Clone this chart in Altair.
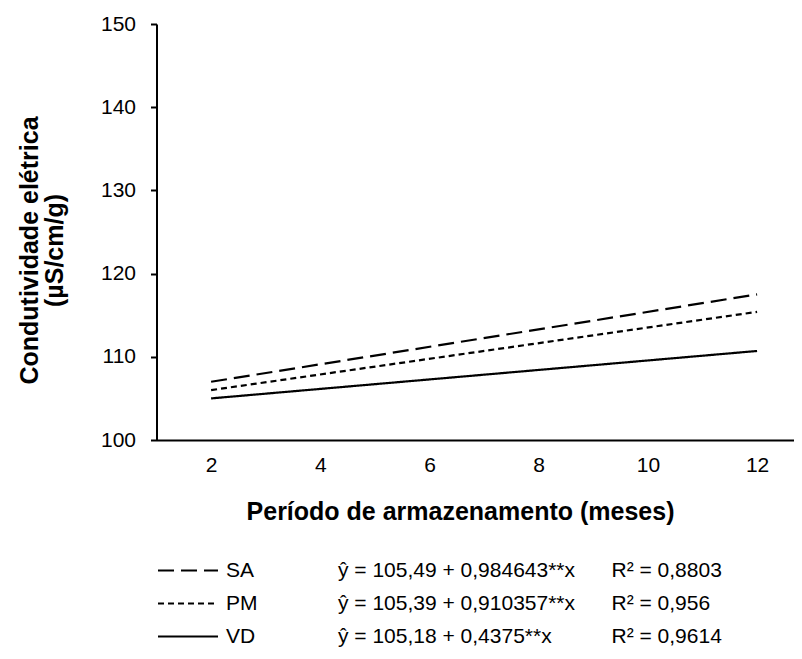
import altair as alt
import pandas as pd

# ---- data ----
series = ["SA", "PM", "VD"]
x_points = [2, 12]
sa_values = [107.0, 117.5]
pm_values = [106.0, 115.4]
vd_values = [105.0, 110.7]
equations = [
    "ŷ = 105,49 + 0,984643**x",
    "ŷ = 105,39 + 0,910357**x",
    "ŷ = 105,18 + 0,4375**x",
]
r_squared = ["R² = 0,8803", "R² = 0,956", "R² = 0,9614"]
x_ticks = [2, 4, 6, 8, 10, 12]
y_ticks = [100, 110, 120, 130, 140, 150]

rows = []
for s, vals, eq, r2 in zip(series, [sa_values, pm_values, vd_values], equations, r_squared):
    for x, y in zip(x_points, vals):
        rows.append({"serie": s, "x": x, "y": y, "eq": eq, "r2": r2})
df = pd.DataFrame(rows)

FONT = "Liberation Sans"
legend_common = dict(
    orient="none",
    title=None,
    padding=0,
    symbolSize=400,
    symbolStrokeWidth=2.2,
    symbolStrokeColor="black",
    rowPadding=11,
    labelFont=FONT,
    labelFontSize=21,
    labelColor="black",
    labelLimit=500,
    legendY=535,
)

chart = alt.Chart(df).mark_line(strokeWidth=2.2, clip=True).encode(
    x=alt.X(
        "x:Q",
        scale=alt.Scale(domain=[1, 12.667], nice=False, zero=False),
        axis=alt.Axis(
            values=x_ticks,
            title="Período de armazenamento (meses)",
            titleFont=FONT,
            titleFontSize=25,
            titleFontWeight="bold",
            titleColor="black",
            titleX=303.5,
            titleY=79,
            titleAlign="center",
            titleBaseline="alphabetic",
            labelFont=FONT,
            labelFontSize=21,
            labelColor="black",
            labelPadding=14,
            ticks=False,
            grid=False,
            domainColor="black",
            domainWidth=2,
        ),
    ),
    y=alt.Y(
        "y:Q",
        scale=alt.Scale(domain=[100, 150], nice=False, zero=False),
        axis=alt.Axis(
            values=y_ticks,
            title=["Condutividade elétrica", "(µS/cm/g)"],
            titleFont=FONT,
            titleFontSize=25,
            titleFontWeight="bold",
            titleColor="black",
            titleX=-127,
            titleY=226,
            titleAngle=270,
            titleAlign="center",
            titleBaseline="middle",
            titleLineHeight=25,
            labelFont=FONT,
            labelFontSize=21,
            labelColor="black",
            labelPadding=15,
            tickSize=6,
            tickWidth=2,
            tickColor="black",
            grid=False,
            domainColor="black",
            domainWidth=2,
        ),
    ),
    strokeDash=alt.StrokeDash(
        "serie:N",
        scale=alt.Scale(domain=series, range=[[16, 7], [6, 4], [1, 0]]),
        legend=alt.Legend(symbolType="M-3,0H3", legendX=20, labelOffset=26.5, **legend_common),
    ),
    color=alt.Color(
        "eq:N",
        scale=alt.Scale(domain=equations, range=["black", "black", "black"]),
        legend=alt.Legend(symbolType="M0,0", legendX=158.5, labelOffset=0, **legend_common),
    ),
    opacity=alt.Opacity(
        "r2:N",
        scale=alt.Scale(domain=r_squared, range=[1, 1, 1]),
        legend=alt.Legend(symbolType="M0,0", legendX=432, labelOffset=0, **legend_common),
    ),
    detail="serie:N",
).properties(
    width=637,
    height=416,
    padding={"left": 148.5, "top": 16, "right": 0, "bottom": 211},
    autosize=alt.AutoSizeParams(type="none"),
).configure_view(stroke=None)

chart.save("out.html", embed_options={"renderer": "svg", "actions": False})
